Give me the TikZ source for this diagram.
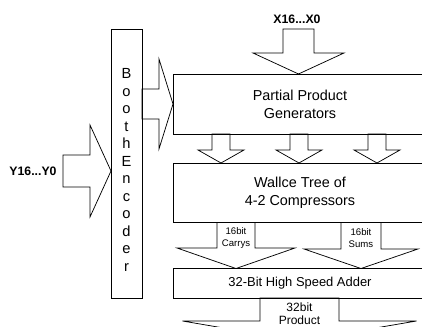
\documentclass[tikz,border=0pt]{standalone}
\usepackage{fontspec}
\setmainfont{Liberation Sans}
% block arrows: #1 centre, #2 from, #3 to, #4 shaft half width, #5 head half width, #6 head base
\newcommand{\dnarrow}[6]{\draw ({#1-#4},0 |- #2) -- ({#1-#4},#6) -- ({#1-#5},#6) -- (#1,0 |- #3)
  -- ({#1+#5},#6) -- ({#1+#4},#6) -- ({#1+#4},0 |- #2) -- cycle;}
\newcommand{\rtarrow}[6]{\draw (0,{#1-#4} -| #2) -- (#6,{#1-#4}) -- (#6,{#1-#5}) -- (0,#1 -| #3)
  -- (#6,{#1+#5}) -- (#6,{#1+#4}) -- (0,{#1+#4} -| #2) -- cycle;}
\begin{document}
\begin{tikzpicture}
[x=0.75pt, y=-0.75pt, line width=0.55pt, color=black,
 block/.style={draw, rectangle, outer sep=0pt, inner sep=0pt, minimum width=190.5pt},
 big/.style={font=\fontsize{10.8}{13.5}\selectfont, align=center},
 smalltxt/.style={font=\fontsize{7.2}{9}\selectfont, align=center},
 inlabel/.style={font=\bfseries\fontsize{9.2}{11}\selectfont}]
  \useasboundingbox (0,0) rectangle (422,327);
  \node [draw, outer sep=0pt, minimum width=23.25pt, minimum height=201.75pt] (booth) at (126.5,163.5) {};
  \node [font=\fontsize{11}{13.1}\selectfont, align=center] (bootht) at (126.5,170)
    {B\\o\\o\\t\\h\\E\\n\\c\\o\\d\\e\\r};
  \node [block, big, minimum height=45pt] (pp) at (300,104) {Partial Product\\Generators};
  \node [block, big, minimum height=44.6pt] (wal) at (300,192.75) {Wallce Tree of\\4-2 Compressors};
  \node [block, font=\fontsize{9.7}{12}\selectfont, minimum height=22.1pt] (add) at (300,283.25)
    {32-Bit High Speed Adder};
  \node [inlabel] (xlab) at (297,19) {X16...X0};
  \node [inlabel] (ylab) at (33,171) {Y16...Y0};
  \coordinate (xin) at (298.5,29);
  \coordinate (yin) at (63,171);
  \coordinate (pout) at (299.5,341);
  % block arrows
  \rtarrow{171}{yin}{booth.west}{16}{46}{90}
  \rtarrow{104}{booth.east}{pp.west}{15}{45}{159}
  \dnarrow{298.5}{xin}{pp.north}{15.5}{45.5}{53}
  \foreach \x in {221,299,377}
    {\dnarrow{\x}{pp.south}{wal.north}{9}{23}{150}}
  \dnarrow{236}{wal.south}{add.north}{19}{59}{248}
  \dnarrow{361}{wal.south}{add.north}{20}{57}{249}
  \dnarrow{299.5}{add.south}{pout}{39.5}{117}{321}
  \node [smalltxt] (carry) at (236,238) {16bit\\Carrys};
  \node [smalltxt] (sum) at (361,238) {16bit\\Sums};
  \node [font=\fontsize{9}{9.75}\selectfont, align=center] (prod) at (299.5,313.5) {32bit\\Product};
\end{tikzpicture}
\end{document}
